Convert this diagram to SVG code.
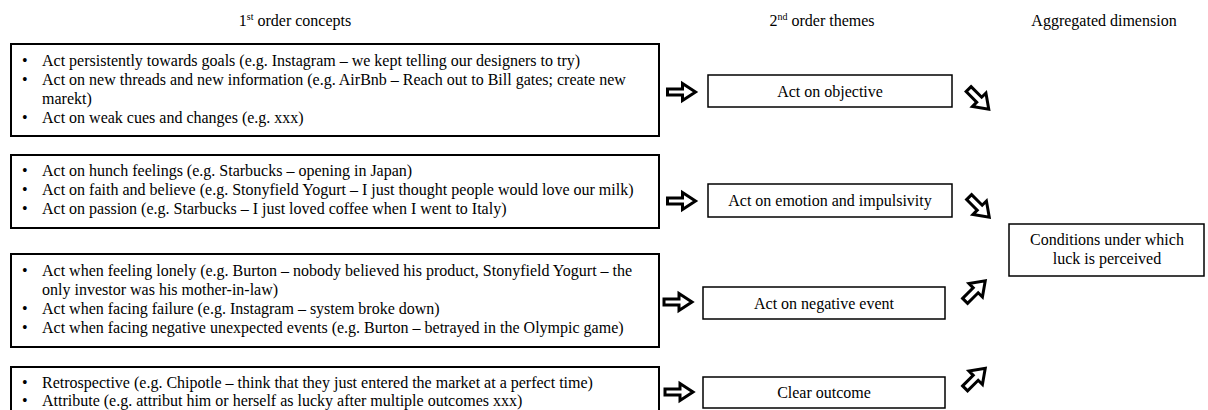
<svg xmlns="http://www.w3.org/2000/svg" width="1208" height="410" viewBox="0 0 1208 410">
<style>
text{font-family:"Liberation Serif","Times New Roman",serif;font-size:16px;fill:#000}
.c{text-anchor:middle}
.sup{font-size:10px}
.lb{fill:#fff;stroke:#000;stroke-width:2}
.mb{fill:#fff;stroke:#000;stroke-width:1.5}
.ar{fill:#fff;stroke:#000;stroke-width:3;stroke-linejoin:miter}
</style>
<defs>
<path id="ah" d="M-14,-3 L1,-3 L1,-8.5 L14,0 L1,8.5 L1,3 L-14,3 Z"/>
<path id="ad" d="M-14,-3.5 L1,-3.5 L1,-9.5 L14.5,0 L1,9.5 L1,3.5 L-14,3.5 Z"/>
</defs>
<rect width="1208" height="410" fill="#fff"/>
<g id="titles">
<text class="c" x="295" y="26">1<tspan class="sup" dy="-6">st</tspan><tspan dy="6"> order concepts</tspan></text>
<text class="c" x="822" y="26">2<tspan class="sup" dy="-6">nd</tspan><tspan dy="6"> order themes</tspan></text>
<text class="c" x="1104" y="26">Aggregated dimension</text>
</g>
<g id="concepts-objective">
<rect class="lb" x="11" y="44" width="648" height="92"/>
<text x="22" y="66">•</text><text x="42" y="66">Act persistently towards goals (e.g. Instagram – we kept telling our designers to try)</text>
<text x="22" y="85">•</text><text x="42" y="85">Act on new threads and new information (e.g. AirBnb – Reach out to Bill gates; create new</text>
<text x="42" y="104">marekt)</text>
<text x="22" y="123">•</text><text x="42" y="123">Act on weak cues and changes (e.g. xxx)</text>
</g>
<g id="concepts-emotion">
<rect class="lb" x="11" y="155" width="648" height="73"/>
<text x="22" y="176">•</text><text x="42" y="176">Act on hunch feelings (e.g. Starbucks – opening in Japan)</text>
<text x="22" y="195">•</text><text x="42" y="195">Act on faith and believe (e.g. Stonyfield Yogurt – I just thought people would love our milk)</text>
<text x="22" y="214">•</text><text x="42" y="214">Act on passion (e.g. Starbucks – I just loved coffee when I went to Italy)</text>
</g>
<g id="concepts-negative">
<rect class="lb" x="11" y="254" width="648" height="93"/>
<text x="22" y="276">•</text><text x="42" y="276">Act when feeling lonely (e.g. Burton – nobody believed his product, Stonyfield Yogurt – the</text>
<text x="42" y="295">only investor was his mother-in-law)</text>
<text x="22" y="314">•</text><text x="42" y="314">Act when facing failure (e.g. Instagram – system broke down)</text>
<text x="22" y="333">•</text><text x="42" y="333">Act when facing negative unexpected events (e.g. Burton – betrayed in the Olympic game)</text>
</g>
<g id="concepts-outcome">
<rect class="lb" x="11" y="367" width="648" height="70"/>
<text x="22" y="388">•</text><text x="42" y="388">Retrospective (e.g. Chipotle – think that they just entered the market at a perfect time)</text>
<text x="22" y="406">•</text><text x="42" y="406">Attribute (e.g. attribut him or herself as lucky after multiple outcomes xxx)</text>
</g>
<g id="theme-objective">
<rect class="mb" x="708" y="75" width="244" height="32"/>
<text class="c" x="830" y="96.5">Act on objective</text>
</g>
<g id="theme-emotion">
<rect class="mb" x="708" y="184" width="244" height="33"/>
<text class="c" x="830" y="206">Act on emotion and impulsivity</text>
</g>
<g id="theme-negative">
<rect class="mb" x="703" y="287" width="242" height="32"/>
<text class="c" x="824" y="308.5">Act on negative event</text>
</g>
<g id="theme-outcome">
<rect class="mb" x="703" y="377" width="242" height="31"/>
<text class="c" x="824" y="398">Clear outcome</text>
</g>
<g id="dimension">
<rect class="mb" x="1009" y="224" width="195" height="52"/>
<text class="c" x="1107" y="245">Conditions under which</text>
<text class="c" x="1107" y="264">luck is perceived</text>
</g>
<g id="connectors">
<use href="#ah" class="ar" transform="translate(681.5,92)"/>
<use href="#ah" class="ar" transform="translate(681.5,201)"/>
<use href="#ah" class="ar" transform="translate(678,302)"/>
<use href="#ah" class="ar" transform="translate(679,392)"/>
<use href="#ad" class="ar" transform="translate(978.5,99) rotate(45)"/>
<use href="#ad" class="ar" transform="translate(979,207) rotate(45)"/>
<use href="#ad" class="ar" transform="translate(975,291) rotate(-45)"/>
<use href="#ad" class="ar" transform="translate(975,378.5) rotate(-45)"/>
</g>
</svg>
